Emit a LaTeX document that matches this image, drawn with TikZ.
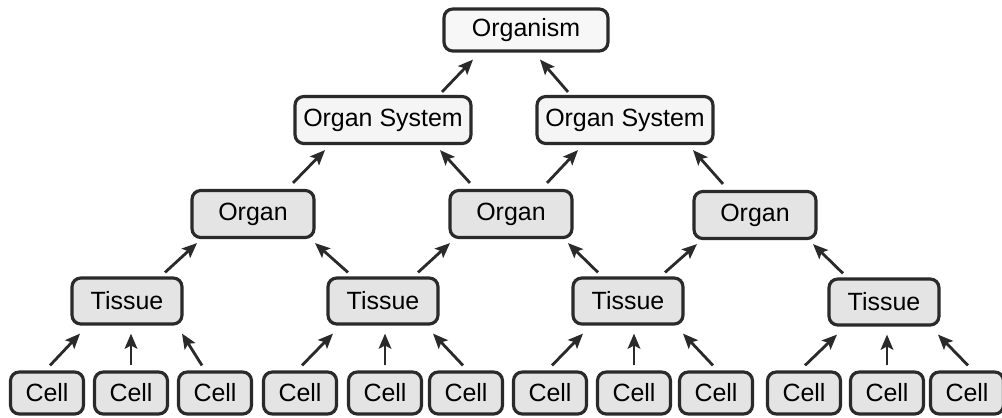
\documentclass[tikz,border=0pt]{standalone}
\usepackage{fontspec}
\setmainfont{Liberation Sans}
\usetikzlibrary{arrows.meta,calc}
\definecolor{boxink}{HTML}{2A2A2A}
\definecolor{boxfill}{HTML}{E4E4E4}

\begin{document}
\begin{tikzpicture}[x=0.02cm,y=-0.02cm,
  block/.style={draw=boxink, line width=1.8pt, rounded corners=5pt, rectangle, inner sep=0pt, fill=boxfill, text=black, font=\fontsize{14.2}{17}\selectfont},
  whole/.style={block, fill=black!3, minimum width=3.28cm, minimum height=0.84cm},
  system/.style={block, fill=black!4, minimum width=3.52cm, minimum height=0.94cm},
  organ/.style={block, minimum width=2.44cm, minimum height=0.94cm},
  tissue/.style={block, minimum width=2.2cm, minimum height=0.92cm},
  cell/.style={block, minimum width=1.46cm, minimum height=0.84cm},
  arr/.style={draw=boxink, line width=1.6pt, -{Stealth[length=3mm,width=2.5mm,inset=0.6mm]}}]
\useasboundingbox (0,0) rectangle (1002,417);
\node[whole] (org) at (526,30) {Organism};
\node[system] (sys1) at (383,120) {Organ System};
\node[system] (sys2) at (625,120) {Organ System};
\node[organ] (organ1) at (253,214) {Organ};
\node[organ] (organ2) at (511,214) {Organ};
\node[organ] (organ3) at (755,215) {Organ};
\node[tissue] (tis1) at (127,301) {Tissue};
\node[tissue] (tis2) at (383,301) {Tissue};
\node[tissue] (tis3) at (628,301) {Tissue};
\node[tissue] (tis4) at (884,302) {Tissue};
\node[cell] (cell1) at (47,393) {Cell};
\node[cell] (cell2) at (131,393) {Cell};
\node[cell] (cell3) at (215,393) {Cell};
\node[cell] (cell4) at (300,393) {Cell};
\node[cell] (cell5) at (385,393) {Cell};
\node[cell] (cell6) at (466,393) {Cell};
\node[cell] (cell7) at (550,393) {Cell};
\node[cell] (cell8) at (634,393) {Cell};
\node[cell] (cell9) at (716,393) {Cell};
\node[cell] (cell10) at (804,393) {Cell};
\node[cell] (cell11) at (887,393) {Cell};
\node[cell] (cell12) at (967,393) {Cell};
\draw[arr] ($(cell1.north)+(3,-5)$) -- ($(tis1.south)+(-47,8)$);
\draw[arr] ($(cell2.north)+(0,-5)$) -- ($(cell2.north |- tis1.south)+(0,8)$);
\draw[arr] ($(cell3.north)+(-13,-5)$) -- ($(tis1.south)+(55,8)$);
\draw[arr] ($(cell4.north)+(2,-5)$) -- ($(tis2.south)+(-50,8)$);
\draw[arr] ($(cell5.north)+(0,-5)$) -- ($(cell5.north |- tis2.south)+(0,8)$);
\draw[arr] ($(cell6.north)+(-3,-5)$) -- ($(tis2.south)+(50,8)$);
\draw[arr] ($(cell7.north)+(2,-5)$) -- ($(tis3.south)+(-45,8)$);
\draw[arr] ($(cell8.north)+(0,-5)$) -- ($(cell8.north |- tis3.south)+(0,8)$);
\draw[arr] ($(cell9.north)+(-3,-5)$) -- ($(tis3.south)+(55,8)$);
\draw[arr] ($(cell10.north)+(1,-5)$) -- ($(tis4.south)+(-47,8)$);
\draw[arr] ($(cell11.north)+(0,-5)$) -- ($(cell11.north |- tis4.south)+(0,8)$);
\draw[arr] ($(cell12.north)+(1,-5)$) -- ($(tis4.south)+(54,8)$);
\draw[arr] ($(tis1.north)+(38,-4)$) -- ($(organ1.south)+(-56,4)$);
\draw[arr] ($(tis2.north)+(-35,-4)$) -- ($(organ1.south)+(62,4)$);
\draw[arr] ($(tis2.north)+(35,-4)$) -- ($(organ2.south)+(-61,4)$);
\draw[arr] ($(tis3.north)+(-30,-4)$) -- ($(organ2.south)+(57,4)$);
\draw[arr] ($(tis3.north)+(37,-4)$) -- ($(organ3.south)+(-58,4)$);
\draw[arr] ($(tis4.north)+(-41,-4)$) -- ($(organ3.south)+(58,4)$);
\draw[arr] ($(organ1.north)+(40,-6)$) -- ($(sys1.south)+(-58,5)$);
\draw[arr] ($(organ2.north)+(-41,-6)$) -- ($(sys1.south)+(57,5)$);
\draw[arr] ($(organ2.north)+(36,-6)$) -- ($(sys2.south)+(-47,5)$);
\draw[arr] ($(organ3.north)+(-32,-6)$) -- ($(sys2.south)+(68,5)$);
\draw[arr] ($(sys1.north)+(59,-3)$) -- ($(org.south)+(-53,7)$);
\draw[arr] ($(sys2.north)+(-57,-3)$) -- ($(org.south)+(14,7)$);
\end{tikzpicture}
\end{document}
